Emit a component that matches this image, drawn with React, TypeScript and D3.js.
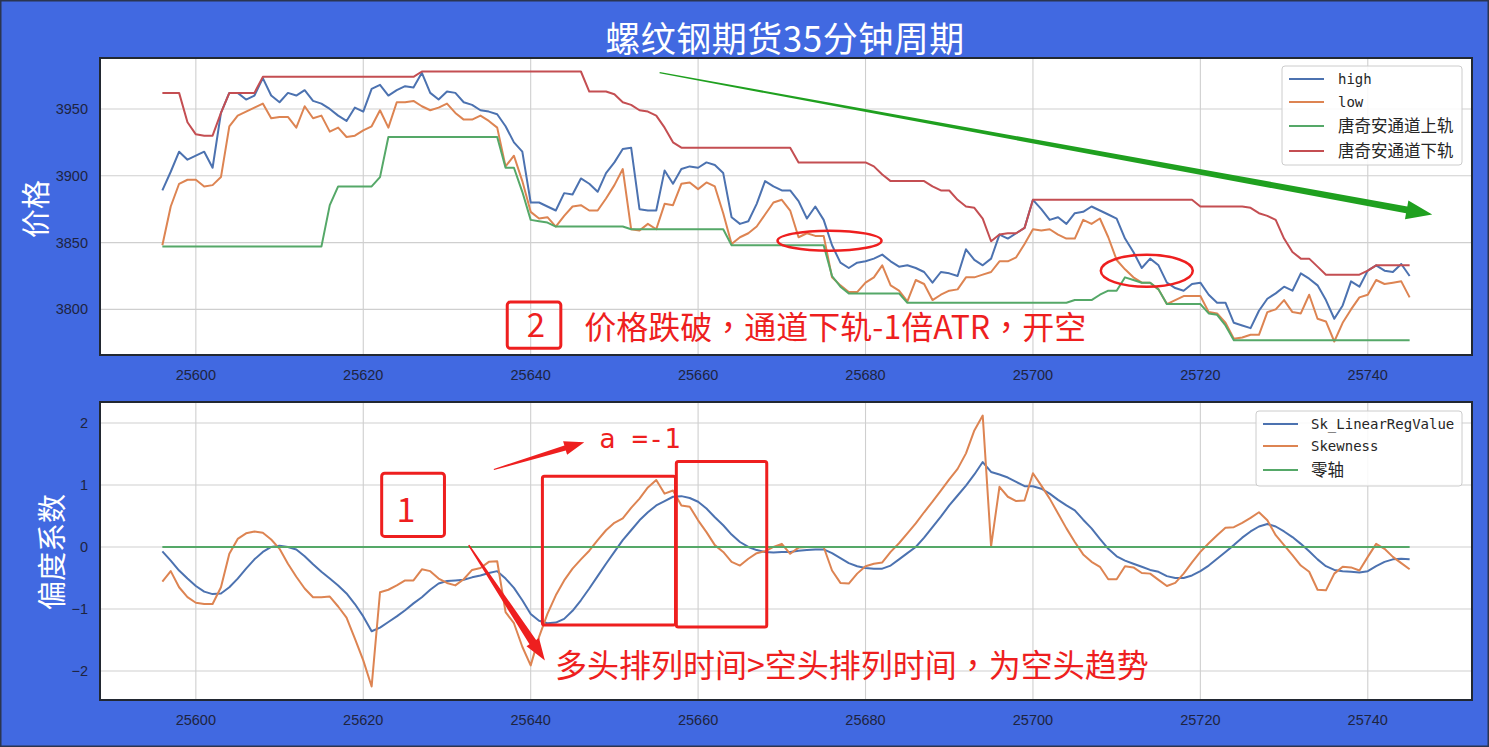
import React from "react";
import * as d3 from "d3";

const W = 1489;
const H = 747;

const X0 = 25596;
const high = [3889,3903,3918,3912,3915,3918,3906,3947,3962,3962,3957,3960,3973,3960,3955,3962,3960,3964,3956,3954,3950,3945,3941,3951,3948,3965,3968,3960,3964,3967,3966,3977,3962,3957,3963,3962,3955,3953,3949,3948,3946,3937,3925,3918,3880,3880,3877,3874,3887,3886,3898,3894,3888,3902,3910,3920,3921,3875,3874,3874,3904,3894,3905,3907,3906,3910,3908,3902,3869,3864,3866,3879,3896,3892,3889,3889,3881,3868,3877,3867,3848,3835,3831,3835,3836,3838,3841,3836,3832,3833,3831,3828,3820,3828,3827,3825,3845,3837,3833,3838,3856,3853,3857,3861,3882,3875,3867,3869,3864,3872,3873,3877,3874,3871,3868,3853,3843,3831,3838,3833,3820,3816,3814,3819,3820,3811,3805,3805,3790,3788,3786,3799,3808,3812,3817,3814,3827,3823,3818,3807,3793,3803,3821,3817,3829,3833,3829,3828,3834,3825];
const low = [3848,3877,3894,3897,3897,3892,3893,3899,3937,3945,3948,3951,3954,3943,3944,3944,3936,3952,3943,3945,3933,3936,3929,3930,3934,3937,3949,3936,3955,3955,3956,3952,3949,3951,3954,3947,3942,3942,3945,3941,3936,3907,3915,3896,3873,3868,3869,3862,3870,3877,3878,3874,3874,3883,3893,3905,3860,3859,3864,3860,3879,3878,3894,3895,3890,3895,3892,3872,3849,3854,3857,3862,3871,3880,3882,3874,3854,3857,3855,3855,3824,3818,3813,3813,3820,3824,3833,3818,3814,3806,3822,3819,3807,3811,3814,3815,3824,3824,3826,3828,3836,3836,3839,3849,3860,3859,3860,3856,3853,3853,3867,3864,3868,3854,3837,3830,3824,3820,3820,3815,3804,3807,3810,3810,3810,3798,3797,3790,3778,3779,3781,3781,3798,3800,3807,3798,3797,3811,3793,3791,3776,3790,3800,3809,3811,3822,3819,3820,3821,3809];
const donchianUpperLabelled = [3847,3847,3847,3847,3847,3847,3847,3847,3847,3847,3847,3847,3847,3847,3847,3847,3847,3847,3847,3847,3878,3892,3892,3892,3892,3892,3899,3929,3929,3929,3929,3929,3929,3929,3929,3929,3929,3929,3929,3929,3929,3906,3906,3888,3867,3866,3865,3862,3862,3862,3862,3862,3862,3862,3862,3862,3860,3860,3860,3860,3860,3860,3860,3860,3860,3860,3860,3860,3848,3848,3848,3848,3848,3848,3848,3848,3848,3848,3848,3848,3825,3817,3812,3812,3812,3812,3812,3812,3812,3805,3805,3805,3805,3805,3805,3805,3805,3805,3805,3805,3805,3805,3805,3805,3805,3805,3805,3805,3805,3807,3807,3807,3811,3814,3814,3824,3822,3820,3820,3815,3804,3804,3804,3804,3804,3797,3796,3788,3777,3777,3777,3777,3777,3777,3777,3777,3777,3777,3777,3777,3777,3777,3777,3777,3777,3777,3777,3777,3777,3777];
const donchianLowerLabelled = [3962,3962,3962,3940,3931,3930,3930,3947,3962,3962,3962,3962,3974,3974,3974,3974,3974,3974,3974,3974,3974,3974,3974,3974,3974,3974,3974,3974,3974,3974,3974,3978,3978,3978,3978,3978,3978,3978,3978,3978,3978,3978,3978,3978,3978,3978,3978,3978,3978,3978,3978,3963,3963,3963,3961,3955,3953,3949,3948,3945,3936,3925,3921,3921,3921,3921,3921,3921,3921,3921,3921,3921,3921,3921,3921,3921,3910,3910,3910,3910,3910,3910,3910,3910,3910,3907,3901,3896,3896,3896,3896,3896,3892,3889,3889,3882,3877,3876,3868,3851,3856,3857,3857,3861,3882,3882,3882,3882,3882,3882,3882,3882,3882,3882,3882,3882,3882,3882,3882,3882,3882,3882,3882,3882,3877,3877,3877,3877,3877,3877,3876,3872,3870,3867,3853,3843,3838,3838,3832,3826,3826,3826,3826,3826,3829,3833,3833,3833,3833,3833];

const skLinReg = [-0.07,-0.22,-0.38,-0.51,-0.63,-0.72,-0.76,-0.75,-0.65,-0.51,-0.35,-0.2,-0.08,0,0.02,0,-0.04,-0.15,-0.28,-0.4,-0.51,-0.62,-0.75,-0.92,-1.12,-1.36,-1.3,-1.21,-1.12,-1.02,-0.91,-0.81,-0.69,-0.59,-0.55,-0.54,-0.53,-0.49,-0.46,-0.42,-0.39,-0.51,-0.66,-0.86,-1.08,-1.19,-1.23,-1.22,-1.16,-1.03,-0.86,-0.67,-0.47,-0.27,-0.08,0.11,0.27,0.43,0.56,0.67,0.74,0.81,0.82,0.79,0.73,0.62,0.48,0.35,0.2,0.08,0,-0.05,-0.08,-0.09,-0.08,-0.08,-0.06,-0.05,-0.04,-0.04,-0.1,-0.18,-0.26,-0.31,-0.34,-0.35,-0.35,-0.3,-0.2,-0.1,0,0.15,0.32,0.49,0.67,0.83,0.99,1.17,1.37,1.21,1.17,1.12,1.05,0.98,0.98,0.94,0.86,0.76,0.67,0.59,0.44,0.3,0.13,-0.03,-0.15,-0.22,-0.27,-0.32,-0.37,-0.4,-0.47,-0.5,-0.5,-0.46,-0.39,-0.3,-0.19,-0.08,0.03,0.15,0.25,0.33,0.37,0.33,0.25,0.16,0.05,-0.07,-0.2,-0.31,-0.37,-0.39,-0.4,-0.41,-0.39,-0.31,-0.24,-0.2,-0.19,-0.2];
const skewness = [-0.56,-0.39,-0.65,-0.81,-0.9,-0.92,-0.92,-0.65,-0.11,0.13,0.22,0.25,0.23,0.12,-0.03,-0.27,-0.48,-0.67,-0.81,-0.81,-0.8,-0.96,-1.14,-1.48,-1.83,-2.25,-0.73,-0.69,-0.62,-0.54,-0.54,-0.36,-0.39,-0.51,-0.58,-0.62,-0.52,-0.37,-0.34,-0.24,-0.23,-1.05,-1.23,-1.61,-1.91,-1.45,-1.08,-0.78,-0.54,-0.35,-0.2,-0.06,0.11,0.27,0.39,0.46,0.63,0.78,0.96,1.08,0.86,0.91,0.67,0.65,0.43,0.24,0.03,-0.08,-0.24,-0.3,-0.19,-0.1,-0.07,0,0.05,-0.11,-0.01,0,0,0,-0.38,-0.58,-0.59,-0.43,-0.31,-0.27,-0.25,-0.08,0.06,0.22,0.38,0.56,0.73,0.91,1.09,1.26,1.51,1.88,2.12,0.01,0.97,0.81,0.74,0.75,1.19,0.99,0.78,0.54,0.3,0.08,-0.12,-0.24,-0.32,-0.52,-0.52,-0.31,-0.33,-0.42,-0.43,-0.53,-0.63,-0.58,-0.43,-0.25,-0.08,0.06,0.19,0.31,0.32,0.39,0.47,0.56,0.43,0.19,0.03,-0.13,-0.3,-0.4,-0.69,-0.7,-0.43,-0.32,-0.33,-0.38,-0.16,0.05,-0.03,-0.16,-0.26,-0.36];
const zeroAxis = skewness.map(() => 0);

const xTicks = [25600, 25620, 25640, 25660, 25680, 25700, 25720, 25740];
const topYTicks = [3800, 3850, 3900, 3950];
const botYTicks = [-2, -1, 0, 1, 2];

const topSeries = [
  { name: "high", values: high, color: "#4C72B0" },
  { name: "low", values: low, color: "#DD8452" },
  { name: "唐奇安通道上轨", values: donchianUpperLabelled, color: "#55A868" },
  { name: "唐奇安通道下轨", values: donchianLowerLabelled, color: "#C44E52" },
];
const botSeries = [
  { name: "Sk_LinearRegValue", values: skLinReg, color: "#4C72B0" },
  { name: "Skewness", values: skewness, color: "#DD8452" },
  { name: "零轴", values: zeroAxis, color: "#55A868" },
];

const BG = "#4169E1";
const RED = "#EE1F1F";
const CJK = "'Noto Sans CJK SC', 'Noto Sans', sans-serif";
const CJK_TC = "'Noto Sans CJK TC', 'Noto Sans CJK SC', sans-serif";
const TICKF = "'Liberation Sans', Arial, sans-serif";
const MONO = "'DejaVu Sans Mono', monospace";

const L = 100, R = 1472;
const TOP = { y0: 58, y1: 355 };
const BOT = { y0: 402, y1: 700 };

function arrowPath(x1: number, y1: number, x2: number, y2: number, w1: number, w2: number, hl: number, hw: number) {
  const dx = x2 - x1, dy = y2 - y1;
  const len = Math.hypot(dx, dy);
  const ux = dx / len, uy = dy / len;
  const nx = -uy, ny = ux;
  const bx = x2 - ux * hl, by = y2 - uy * hl;
  const p = [
    [x1 + nx * w1 / 2, y1 + ny * w1 / 2],
    [bx + nx * w2 / 2, by + ny * w2 / 2],
    [bx + nx * hw / 2, by + ny * hw / 2],
    [x2, y2],
    [bx - nx * hw / 2, by - ny * hw / 2],
    [bx - nx * w2 / 2, by - ny * w2 / 2],
    [x1 - nx * w1 / 2, y1 - ny * w1 / 2],
  ];
  return "M" + p.map((q) => q[0].toFixed(1) + "," + q[1].toFixed(1)).join("L") + "Z";
}

// render full-width commas with centred punctuation (TC font)
function cjkText(s: string) {
  const parts = s.split("，");
  const out: any[] = [];
  parts.forEach((p, i) => {
    if (i > 0) out.push(<tspan key={"c" + i} fontFamily={CJK_TC}>，</tspan>);
    out.push(<tspan key={"t" + i}>{p}</tspan>);
  });
  return out;
}

function Legend({ x, y, w, h, rows, items, textDx }: any) {
  return (
    <g>
      <rect x={x} y={y} width={w} height={h} rx={3} fill="white" fillOpacity={0.85} stroke="#cccccc" strokeWidth={1} />
      {items.map((s: any, i: number) => {
        const ascii = /^[\x00-\x7f]*$/.test(s.name);
        return (
          <g key={s.name}>
            <line x1={x + 7} x2={x + 42} y1={rows[i]} y2={rows[i]} stroke={s.color} strokeWidth={2.2} />
            <text x={x + textDx} y={rows[i]} dy="0.35em" fontFamily={ascii ? MONO : CJK} fontSize={ascii ? 14 : 16.5} fill="#262626">
              {s.name}
            </text>
          </g>
        );
      })}
    </g>
  );
}

export default function App() {
  const n = high.length;
  const xs = d3.range(n).map((i) => X0 + i);
  const x = d3.scaleLinear().domain([X0 - 0.05 * (n - 1), X0 + (n - 1) * 1.05]).range([L, R]);

  const allTop = [...high, ...low, ...donchianUpperLabelled, ...donchianLowerLabelled];
  const tMin = d3.min(allTop)!, tMax = d3.max(allTop)!;
  const tPad = (tMax - tMin) * 0.05;
  const yT = d3.scaleLinear().domain([tMin - tPad, tMax + tPad]).range([TOP.y1, TOP.y0]);

  const allBot = [...skLinReg, ...skewness];
  const bMin = d3.min(allBot)!, bMax = d3.max(allBot)!;
  const bPad = (bMax - bMin) * 0.05;
  const yB = d3.scaleLinear().domain([bMin - bPad, bMax + bPad]).range([BOT.y1, BOT.y0]);

  const lineT = d3.line<number>().x((_, i) => x(xs[i])).y((v) => yT(v));
  const lineB = d3.line<number>().x((_, i) => x(xs[i])).y((v) => yB(v));

  const grid = "#cfcfcf";

  const panel = (p: { y0: number; y1: number }, yScale: any, yTicks: number[], fmt: (v: number) => string, key: string) => (
    <g key={key}>
      <rect x={L} y={p.y0} width={R - L} height={p.y1 - p.y0} fill="white" />
      {xTicks.map((t) => (
        <line key={"gx" + t} x1={x(t)} x2={x(t)} y1={p.y0} y2={p.y1} stroke={grid} strokeWidth={1.1} />
      ))}
      {yTicks.map((t) => (
        <line key={"gy" + t} x1={L} x2={R} y1={yScale(t)} y2={yScale(t)} stroke={grid} strokeWidth={1.1} />
      ))}
      {yTicks.map((t) => (
        <text key={"ly" + t} x={L - 12} y={yScale(t)} dy="0.35em" textAnchor="end" fontFamily={TICKF} fontSize={14.5} fill="#1e2440">
          {fmt(t)}
        </text>
      ))}
      {xTicks.map((t) => (
        <text key={"lx" + t} x={x(t)} y={p.y1 + 20} dy="0.35em" textAnchor="middle" fontFamily={TICKF} fontSize={14.5} fill="#1e2440">
          {t}
        </text>
      ))}
    </g>
  );

  const frame = (p: { y0: number; y1: number }) => (
    <rect x={L} y={p.y0} width={R - L} height={p.y1 - p.y0} fill="none" stroke="#222831" strokeWidth={2} />
  );

  // annotation anchors in data coordinates
  const gA = { x1: 25655.4, y1: 3977.1, x2: 25747.7, y2: 3871.0 };
  const ell1 = { x: 25675.7, y: 3851.4 };
  const ell2 = { x: 25713.6, y: 3828.9 };
  const box2 = { x1: 25637.2, x2: 25643.6, y1: 3805.5, y2: 3770.9 };
  const box1 = { x1: 25622.2, x2: 25629.7, y1: 1.19, y2: 0.17 };
  const boxA = { x1: 25641.4, x2: 25657.3, y1: 1.14, y2: -1.26 };
  const boxB = { x1: 25657.4, x2: 25668.2, y1: 1.38, y2: -1.29 };
  const ar1 = { x1: 25635.6, y1: 1.25, x2: 25646.4, y2: 1.69 };
  const ar2 = { x1: 25632.6, y1: 0.03, x2: 25641.7, y2: -1.83 };

  const rectOf = (b: any, ys: any) => ({
    x: x(b.x1),
    y: ys(b.y1),
    width: x(b.x2) - x(b.x1),
    height: ys(b.y2) - ys(b.y1),
  });

  return (
    <div style={{ width: W, height: H }}>
      <style>{"body{margin:0;}"}</style>
      <svg width={W} height={H} style={{ display: "block" }}>
        <rect x={0} y={0} width={W} height={H} fill={BG} />
        <rect x={0.75} y={0.75} width={W - 1.5} height={H - 1.5} fill="none" stroke="#2a3550" strokeWidth={1.5} />

        {panel(TOP, yT, topYTicks, (v) => String(v), "top")}
        {panel(BOT, yB, botYTicks, (v) => (v < 0 ? "\u2212" + Math.abs(v) : String(v)), "bot")}

        <g>
          {topSeries.map((s) => (
            <path key={s.name} d={lineT(s.values)!} fill="none" stroke={s.color} strokeWidth={2} strokeLinejoin="round" />
          ))}
        </g>
        <g>
          {botSeries.map((s) => (
            <path key={s.name} d={lineB(s.values)!} fill="none" stroke={s.color} strokeWidth={2} strokeLinejoin="round" />
          ))}
        </g>

        <Legend x={1282} y={66} w={180} h={99} rows={[79, 102, 126, 151]} items={topSeries} textDx={56} />
        <Legend x={1256} y={411} w={206} h={75} rows={[424, 446, 470]} items={botSeries} textDx={55} />

        {frame(TOP)}
        {frame(BOT)}

        {/* title */}
        <text x={785} y={52} textAnchor="middle" fontFamily={CJK} fontSize={35} letterSpacing={0.5} fill="white">
          螺纹钢期货35分钟周期
        </text>
        {/* y labels */}
        <text transform="translate(47,209) rotate(-90)" textAnchor="middle" fontFamily={CJK} fontSize={29} fill="white">
          价格
        </text>
        <text transform="translate(63,552) rotate(-90)" textAnchor="middle" fontFamily={CJK} fontSize={29} fill="white">
          偏度系数
        </text>

        {/* top annotations */}
        <path d={arrowPath(x(gA.x1), yT(gA.y1), x(gA.x2), yT(gA.y2), 1.2, 7, 26, 19)} fill="#1FA01F" />
        <ellipse cx={x(ell1.x)} cy={yT(ell1.y)} rx={52} ry={10} fill="none" stroke={RED} strokeWidth={2.5} />
        <ellipse cx={x(ell2.x)} cy={yT(ell2.y)} rx={46} ry={16} fill="none" stroke={RED} strokeWidth={2.5} />
        <rect {...rectOf(box2, yT)} rx={3} fill="none" stroke={RED} strokeWidth={3} />
        <text x={x((box2.x1 + box2.x2) / 2) + 2} y={yT(3779)} textAnchor="middle" fontFamily={CJK} fontSize={33} fill={RED}>
          2
        </text>
        <text x={x(25646.4)} y={yT(3777.7)} fontFamily={CJK} fontSize={32} fill={RED}>
          {cjkText("价格跌破，通道下轨-1倍ATR，开空")}
        </text>

        {/* bottom annotations */}
        <rect {...rectOf(box1, yB)} rx={3} fill="none" stroke={RED} strokeWidth={3} />
        <text x={x(25625.1)} y={yB(0.41)} textAnchor="middle" fontFamily={CJK} fontSize={34} fill={RED}>
          1
        </text>
        <path d={arrowPath(x(ar1.x1), yB(ar1.y1), x(ar1.x2), yB(ar1.y2), 1.2, 5, 20, 14)} fill={RED} />
        <text x={x(25648.2)} y={yB(1.59)} fontFamily={MONO} fontSize={27} fill={RED}>
          a =-1
        </text>
        <rect {...rectOf(boxA, yB)} rx={2} fill="none" stroke={RED} strokeWidth={3} />
        <rect {...rectOf(boxB, yB)} rx={2} fill="none" stroke={RED} strokeWidth={3} />
        <path d={arrowPath(x(ar2.x1), yB(ar2.y1), x(ar2.x2), yB(ar2.y2), 1.5, 8, 22, 15)} fill={RED} />
        <text x={x(25642.9)} y={yB(-2.1)} fontFamily={CJK} fontSize={32} fill={RED}>
          {cjkText("多头排列时间>空头排列时间，为空头趋势")}
        </text>
      </svg>
    </div>
  );
}
